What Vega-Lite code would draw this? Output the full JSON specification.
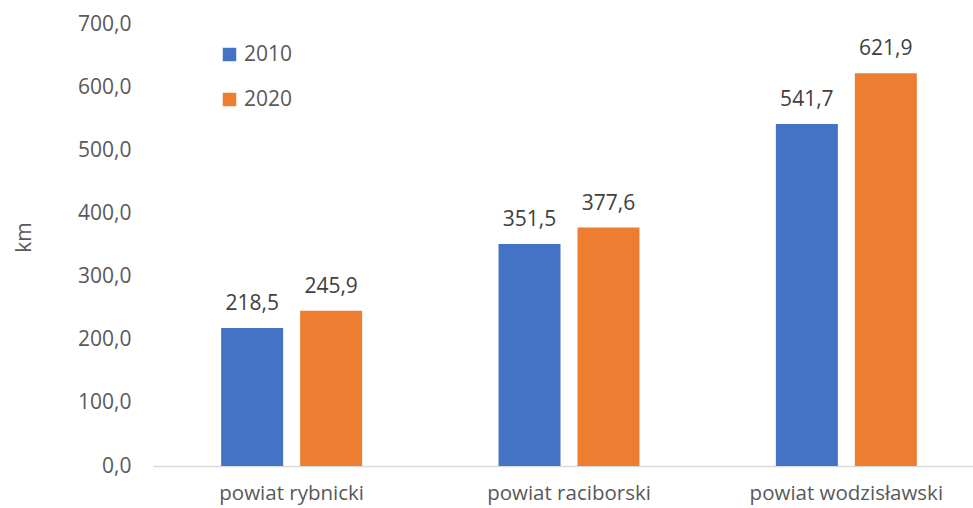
{
  "$schema": "https://vega.github.io/schema/vega-lite/v6.json",
  "width": 820,
  "height": 442,
  "autosize": {"type": "none"},
  "padding": {"left": 153, "top": 24, "right": 0, "bottom": 42},
  "background": "white",
  "config": {
    "locale": {"number": {"decimal": ",", "thousands": " ", "grouping": [3], "currency": ["", " zł"]}},
    "view": {"stroke": null},
    "font": "Open Sans"
  },
  "data": {
    "values": [
      {"powiat": "powiat rybnicki", "rok": "2010", "km": 218.5},
      {"powiat": "powiat rybnicki", "rok": "2020", "km": 245.9},
      {"powiat": "powiat raciborski", "rok": "2010", "km": 351.5},
      {"powiat": "powiat raciborski", "rok": "2020", "km": 377.6},
      {"powiat": "powiat wodzisławski", "rok": "2010", "km": 541.7},
      {"powiat": "powiat wodzisławski", "rok": "2020", "km": 621.9}
    ]
  },
  "encoding": {
    "x": {
      "field": "powiat",
      "type": "nominal",
      "sort": null,
      "scale": {"range": [0, 832], "paddingInner": 0.4917, "paddingOuter": 0.2458},
      "axis": {
        "title": null,
        "labelAngle": 0,
        "labelFontSize": 20.5,
        "labelColor": "#595959",
        "labelPadding": 17,
        "labelLimit": 0,
        "ticks": false,
        "domainColor": "#D9D9D9",
        "domainWidth": 1.5,
        "grid": false
      }
    },
    "xOffset": {
      "field": "rok",
      "type": "nominal",
      "scale": {"paddingInner": 0.215, "paddingOuter": 0}
    },
    "y": {
      "field": "km",
      "type": "quantitative",
      "scale": {"domain": [0, 700]},
      "axis": {
        "title": "km",
        "titleFontSize": 21,
        "titleFontWeight": "normal",
        "titleColor": "#595959",
        "titleAngle": 270,
        "titleX": -123,
        "titleY": 213,
        "titleAlign": "center",
        "titleBaseline": "alphabetic",
        "values": [0, 100, 200, 300, 400, 500, 600, 700],
        "format": ".1f",
        "labelFontSize": 21,
        "labelColor": "#595959",
        "labelPadding": 22,
        "ticks": false,
        "domain": false,
        "grid": false
      }
    }
  },
  "layer": [
    {
      "mark": {"type": "bar"},
      "encoding": {
        "color": {
          "field": "rok",
          "type": "nominal",
          "scale": {"domain": ["2010", "2020"], "range": ["#4472C4", "#ED7D31"]},
          "legend": {
            "title": null,
            "orient": "none",
            "legendX": 66,
            "legendY": 20,
            "symbolType": "square",
            "symbolSize": 182,
            "symbolStrokeWidth": 0,
            "labelFontSize": 21,
            "labelColor": "#595959",
            "labelOffset": 4,
            "rowPadding": 23
          }
        }
      }
    },
    {
      "mark": {"type": "text", "fontSize": 21, "color": "#404040", "baseline": "alphabetic", "dy": -18},
      "encoding": {
        "text": {"field": "km", "type": "quantitative", "format": ".1f"}
      }
    }
  ]
}
